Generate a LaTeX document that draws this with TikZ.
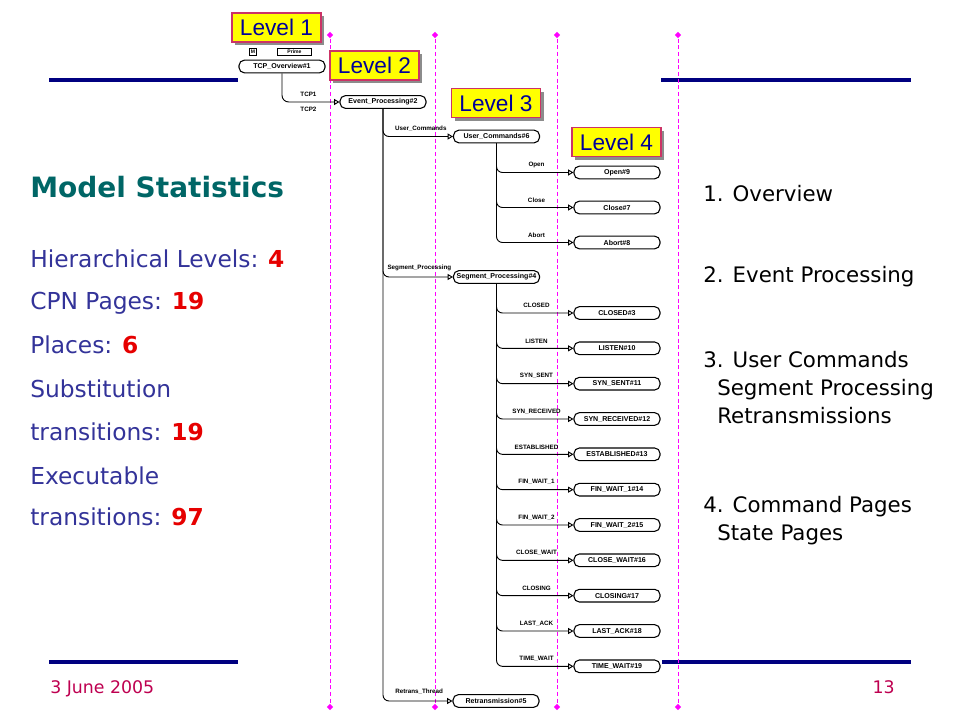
\documentclass[tikz,border=0pt]{standalone}
\usepackage{fontspec}
\setmainfont{DejaVu Sans}
\newfontfamily\arialfont{Liberation Sans}
\usetikzlibrary{arrows.meta,shapes.geometric,shadows}
\definecolor{lvlblue}{RGB}{0,0,153}
\definecolor{lvlyellow}{RGB}{255,255,0}
\definecolor{lvlborder}{RGB}{204,51,102}
\definecolor{guidepink}{RGB}{255,0,255}
\definecolor{rulenavy}{RGB}{0,0,128}
\definecolor{titleteal}{RGB}{0,102,102}
\definecolor{statblue}{RGB}{51,51,153}
\definecolor{statred}{RGB}{230,0,0}
\definecolor{footred}{RGB}{190,0,80}
\begin{document}
\begin{tikzpicture}[
  x=0.75pt, y=-0.75pt,
  level/.style={rectangle, draw=lvlborder, line width=0.9pt, fill=lvlyellow, drop shadow={shadow xshift=2.5pt, shadow yshift=-2.5pt, fill=black!45, opacity=1}, minimum width=66.75pt, minimum height=21.75pt, inner sep=0pt, font=\arialfont\fontsize{17}{17}\selectfont, text=lvlblue},
  page/.style={rectangle, rounded corners=4pt, draw, line width=0.8pt, fill=white, minimum width=64.5pt, minimum height=9.5pt, inner sep=0pt, font=\arialfont\bfseries\fontsize{5.3}{6}\selectfont},
  tag/.style={rectangle, draw, line width=0.6pt, minimum height=5pt, inner sep=0pt, font=\arialfont\bfseries\fontsize{3.8}{4}\selectfont},
  lbl/.style={font=\arialfont\bfseries\fontsize{4.7}{5}\selectfont, inner sep=1pt},
  branch/.style={rounded corners=4.5pt, line width=0.7pt, -{Triangle[open, length=4pt, width=4.5pt]}},
  guide/.style={draw=guidepink, line width=0.6pt, dash pattern=on 3pt off 2pt},
  marker/.style={diamond, fill=guidepink, inner sep=0pt, minimum size=5pt},
  hrule/.style={draw=rulenavy, line width=3pt},
  stat/.style={anchor=base west, inner sep=0pt, text=statblue, font=\fontsize{17.5}{20}\selectfont},
  note/.style={anchor=base west, inner sep=0pt, font=\fontsize{16}{20}\selectfont},
  node distance=26.25pt
]
\useasboundingbox (0,0) rectangle (960,720);

\coordinate (rl1) at (49,80); \coordinate (rl2) at (238,80);
\coordinate (rr1) at (661,80); \coordinate (rr2) at (911,80);
\coordinate (bl1) at (49,662); \coordinate (bl2) at (238,662);
\coordinate (br1) at (662,662); \coordinate (br2) at (911,662);
\draw[hrule] (rl1) -- (rl2);
\draw[hrule] (rr1) -- (rr2);
\draw[hrule] (bl1) -- (bl2);
\draw[hrule] (br1) -- (br2);

\node[marker] (g1t) at (330,35) {}; \node[marker] (g1b) at (330,707) {};
\node[marker] (g2t) at (435,35) {}; \node[marker] (g2b) at (435,707) {};
\node[marker] (g3t) at (557,35) {}; \node[marker] (g3b) at (557,707) {};
\node[marker] (g4t) at (678,35) {}; \node[marker] (g4b) at (678,707) {};
\draw[guide] (g1t) -- (g1b);
\draw[guide] (g2t) -- (g2b);
\draw[guide] (g3t) -- (g3b);
\draw[guide] (g4t) -- (g4b);

\node[tag, minimum width=5pt] (mtag) at (253,52) {M};
\node[tag, minimum width=26pt] (prime) at (294.5,52) {Prime};
\node[page] (ovw) at (282,66.5) {TCP\_Overview\#1};
\node[page] (evt) at (383,102) {Event\_Processing\#2};
\node[page] (ucmd) at (496.5,136.5) {User\_Commands\#6};
\node[page] (seg) at (496.5,277) {Segment\_Processing\#4};
\node[page] (retr) at (496,701) {Retransmission\#5};
\node[page] (open) at (617,172.5) {Open\#9};
\node[page, below of=open] (close) {Close\#7};
\node[page, below of=close] (abort) {Abort\#8};
\node[page] (closed) at (617,313) {CLOSED\#3};
\node[page, below of=closed, node distance=26.5pt] (listen) {LISTEN\#10};
\node[page, below of=listen, node distance=26.5pt] (synsent) {SYN\_SENT\#11};
\node[page, below of=synsent, node distance=26.5pt] (synrcvd) {SYN\_RECEIVED\#12};
\node[page, below of=synrcvd, node distance=26.5pt] (estab) {ESTABLISHED\#13};
\node[page, below of=estab, node distance=26.5pt] (finone) {FIN\_WAIT\_1\#14};
\node[page, below of=finone, node distance=26.5pt] (fintwo) {FIN\_WAIT\_2\#15};
\node[page, below of=fintwo, node distance=26.5pt] (closewait) {CLOSE\_WAIT\#16};
\node[page, below of=closewait, node distance=26.5pt] (closing) {CLOSING\#17};
\node[page, below of=closing, node distance=26.5pt] (lastack) {LAST\_ACK\#18};
\node[page, below of=lastack, node distance=26.5pt] (timewait) {TIME\_WAIT\#19};

\draw[branch, rounded corners=5pt] (ovw.south) |- node[lbl, pos=0.73, above=2.5pt] {TCP1} node[lbl, pos=0.73, below=2.5pt] {TCP2} (evt.west);
\draw[branch] (evt.south) |- node[lbl, pos=0.77, above=2.5pt] {User\_Commands} (ucmd.west);
\draw[branch] (evt.south) |- node[lbl, pos=0.76, above=3pt] {Segment\_Processing} (seg.west);
\draw[branch] (evt.south) |- node[lbl, pos=0.76, above=4pt] {Retrans\_Thread} (retr.west);
\draw[branch] (ucmd.south) |- node[lbl, pos=0.76, above=2.5pt] {Open} (open.west);
\draw[branch] (ucmd.south) |- node[lbl, pos=0.76, above=2.5pt] {Close} (close.west);
\draw[branch] (ucmd.south) |- node[lbl, pos=0.76, above=2.5pt] {Abort} (abort.west);
\draw[branch] (seg.south) |- node[lbl, pos=0.76, above=2.5pt] {CLOSED} (closed.west);
\draw[branch] (seg.south) |- node[lbl, pos=0.76, above=2.5pt] {LISTEN} (listen.west);
\draw[branch] (seg.south) |- node[lbl, pos=0.76, above=2.5pt] {SYN\_SENT} (synsent.west);
\draw[branch] (seg.south) |- node[lbl, pos=0.76, above=2.5pt] {SYN\_RECEIVED} (synrcvd.west);
\draw[branch] (seg.south) |- node[lbl, pos=0.76, above=2.5pt] {ESTABLISHED} (estab.west);
\draw[branch] (seg.south) |- node[lbl, pos=0.76, above=2.5pt] {FIN\_WAIT\_1} (finone.west);
\draw[branch] (seg.south) |- node[lbl, pos=0.76, above=2.5pt] {FIN\_WAIT\_2} (fintwo.west);
\draw[branch] (seg.south) |- node[lbl, pos=0.76, above=2.5pt] {CLOSE\_WAIT} (closewait.west);
\draw[branch] (seg.south) |- node[lbl, pos=0.76, above=2.5pt] {CLOSING} (closing.west);
\draw[branch] (seg.south) |- node[lbl, pos=0.76, above=2.5pt] {LAST\_ACK} (lastack.west);
\draw[branch] (seg.south) |- node[lbl, pos=0.76, above=2.5pt] {TIME\_WAIT} (timewait.west);

\node[level] (lvl1) at (276.5,27.5) {Level 1};
\node[level] (lvl2) at (374.5,65.5) {Level 2};
\node[level] (lvl3) at (496,103) {Level 3};
\node[level] (lvl4) at (616.5,142) {Level 4};

\node[anchor=base west, inner sep=0pt, text=titleteal, font=\bfseries\fontsize{21}{24}\selectfont] (title) at (30,198) {Model Statistics};
\node[stat] (hlev) at (30,268) {Hierarchical Levels: \textcolor{statred}{\bfseries 4}};
\node[stat] (cpn) at (30,310) {CPN Pages: \textcolor{statred}{\bfseries 19}};
\node[stat] (plc) at (30,353) {Places: \textcolor{statred}{\bfseries 6}};
\node[stat] (subst) at (30,397) {Substitution};
\node[stat] (substt) at (30,440) {transitions: \textcolor{statred}{\bfseries 19}};
\node[stat] (exec) at (30,484) {Executable};
\node[stat] (exect) at (30,525) {transitions: \textcolor{statred}{\bfseries 97}};

\node[note] (ov) at (703,202) {1. Overview};
\node[note] (ep) at (703,283) {2. Event Processing};
\node[note] (uc3) at (703,367) {3. User Commands};
\node[note] (sp3) at (717,395) {Segment Processing};
\node[note] (rt3) at (717,423) {Retransmissions};
\node[note] (cp4) at (703,512) {4. Command Pages};
\node[note] (st4) at (717,540) {State Pages};

\node[anchor=base west, inner sep=0pt, text=footred, font=\fontsize{13}{15}\selectfont] (date) at (50,693) {3 June 2005};
\node[anchor=base east, inner sep=0pt, text=footred, font=\fontsize{13}{15}\selectfont] (pno) at (895,693) {13};
\end{tikzpicture}
\end{document}
